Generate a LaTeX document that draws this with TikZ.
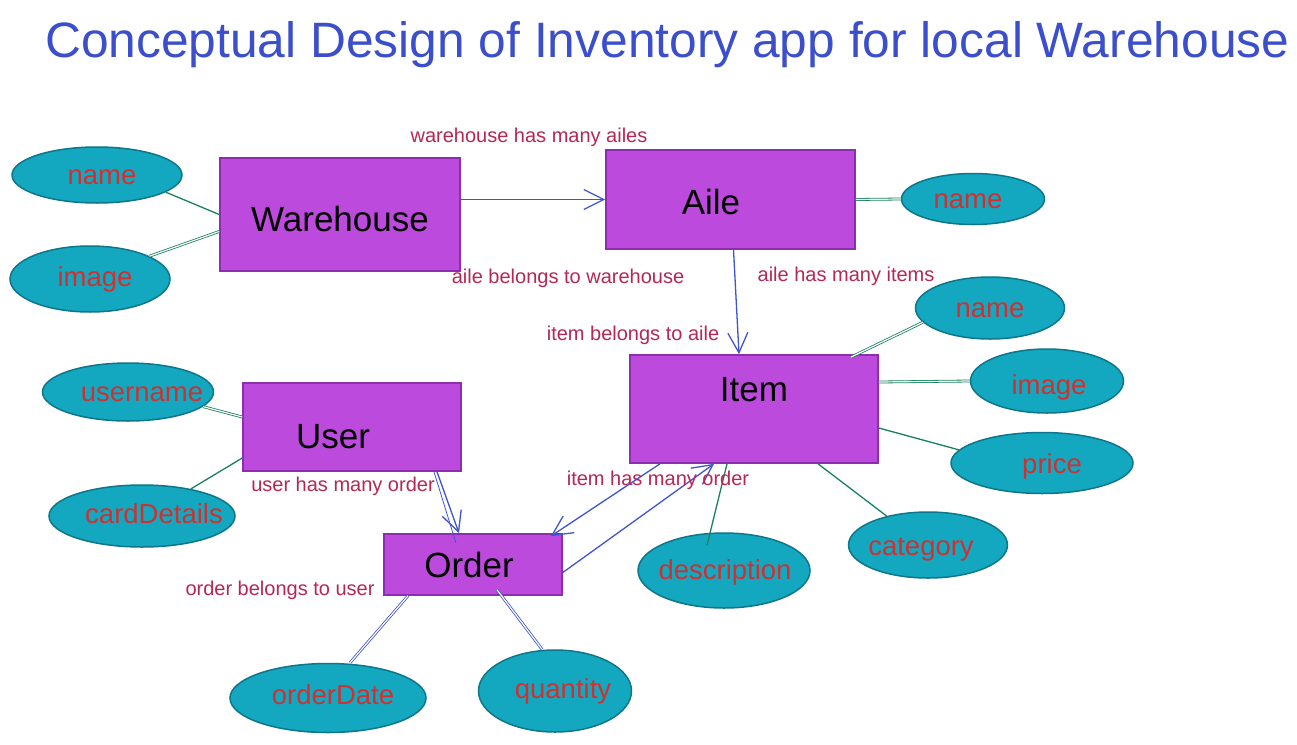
\documentclass[tikz,border=0pt]{standalone}
\usepackage{fontspec}
\setmainfont{Liberation Sans}
\usetikzlibrary{shapes.geometric,arrows.meta}
\definecolor{titleblue}{RGB}{59,78,204}
\definecolor{relred}{RGB}{181,40,84}
\definecolor{attrred}{RGB}{208,48,48}
\definecolor{ellfill}{RGB}{20,168,192}
\definecolor{elldraw}{RGB}{14,118,138}
\definecolor{entfill}{RGB}{188,74,220}
\definecolor{entdraw}{RGB}{140,46,174}
\definecolor{arrblue}{RGB}{64,84,208}
\definecolor{lngreen}{RGB}{26,130,90}
\tikzset{
  entity/.style={rectangle, draw=entdraw, fill=entfill, line width=1.6pt, inner sep=0pt},
  etext/.style={text=black, font=\fontsize{35}{40}\selectfont, inner sep=0pt},
  attr/.style={ellipse, draw=elldraw, fill=ellfill, line width=1.5pt, inner sep=0pt},
  atext/.style={text=attrred, font=\fontsize{27.5}{32}\selectfont, inner sep=0pt, anchor=base},
  rel/.style={text=relred, font=\fontsize{20}{24}\selectfont, inner sep=0pt, anchor=base},
  conn/.style={draw=arrblue, line width=1.3pt, -{Straight Barb[length=20pt,width=20pt,line width=1.3pt]}},
  gline/.style={draw=lngreen, line width=1.3pt},
  gdbl/.style={draw=lngreen, line width=0.8pt, double=white, double distance=1.2pt},
  bdbl/.style={draw=arrblue, line width=0.8pt, double=white, double distance=1.2pt},
}
\begin{document}
\begin{tikzpicture}[x=1pt,y=-1pt]
\useasboundingbox[fill=white] (0,0) rectangle (1297,744);
% title
\node[anchor=base west, inner sep=0pt, text=titleblue, font=\fontsize{49.7}{56}\selectfont] (title) at (45,57) {Conceptual Design of Inventory app for local Warehouse};
% entities
\node[entity, minimum width=240pt, minimum height=113pt] (wh) at (340,214.5) {};
\node[etext] (whT) at (340,219) {Warehouse};
\node[entity, minimum width=249pt, minimum height=99pt] (aile) at (730.5,199.5) {};
\node[etext] (aileT) at (711,202) {Aile};
\node[entity, minimum width=248pt, minimum height=108pt] (item) at (754,409) {};
\node[etext] (itemT) at (754,390) {Item};
\node[entity, minimum width=218pt, minimum height=88pt] (user) at (352,427) {};
\node[etext] (userT) at (333,437) {User};
\node[entity, minimum width=178pt, minimum height=61pt] (order) at (473,564.5) {};
\node[etext] (orderT) at (469,565) {Order};
% attributes
\node[attr, minimum width=170pt, minimum height=56pt] (wname) at (97,175) {};
\node[atext] (wnameT) at (102,184) {name};
\node[attr, minimum width=160pt, minimum height=66pt] (wimg) at (90,279) {};
\node[atext] (wimgT) at (95,286) {image};
\node[attr, minimum width=143pt, minimum height=51pt] (aname) at (973,199) {};
\node[atext] (anameT) at (968,208) {name};
\node[attr, minimum width=149pt, minimum height=62pt] (iname) at (990,308) {};
\node[atext] (inameT) at (990,317) {name};
\node[attr, minimum width=153pt, minimum height=64pt] (iimg) at (1047,381) {};
\node[atext] (iimgT) at (1049,394) {image};
\node[attr, minimum width=182pt, minimum height=61pt] (iprice) at (1042,463) {};
\node[atext] (ipriceT) at (1052,473) {price};
\node[attr, minimum width=159pt, minimum height=66pt] (icat) at (928,545) {};
\node[atext] (icatT) at (921,555) {category};
\node[attr, minimum width=172pt, minimum height=75pt] (desc) at (724,570.5) {};
\node[atext] (descT) at (725,579) {description};
\node[attr, minimum width=171pt, minimum height=58pt] (uname) at (128,392) {};
\node[atext] (unameT) at (142,401) {username};
\node[attr, minimum width=186pt, minimum height=62pt] (card) at (142,516) {};
\node[atext] (cardT) at (154,523) {cardDetails};
\node[attr, minimum width=196pt, minimum height=69pt] (odate) at (328,698) {};
\node[atext] (odateT) at (333,704) {orderDate};
\node[attr, minimum width=153pt, minimum height=82pt] (qty) at (555,691) {};
\node[atext] (qtyT) at (563,698) {quantity};
% attribute lines
\draw[gline] (wname.-14) -- (wh.west);
\draw[gdbl] (wimg.21) -- ([yshift=-17pt]wh.west);
\draw[gdbl] (aile.east) -- (aname.west);
\draw[gdbl] (iname.192) -- ([xshift=-28pt,yshift=-3pt]item.north east);
\draw[gdbl] ([yshift=27pt]item.east) -- (iimg.west);
\draw[gline] ([yshift=-19pt]item.east) -- (iprice.171);
\draw[gline] ([xshift=64pt]item.south) -- (icat.145);
\draw[gline] ([xshift=-27pt]item.south) -- ([xshift=-17pt,yshift=-13pt]desc.north);
\draw[gdbl] (uname.-11) -- ([yshift=10pt]user.west);
\draw[gline] (card.29) -- ([yshift=-31pt]user.west);
\draw[bdbl] ([xshift=-65pt]order.south) -- ([xshift=22pt]odate.north);
\draw[bdbl] ([xshift=24pt,yshift=6pt]order.south) -- ([xshift=-13pt]qty.north);
% relationship arrows
\draw[conn] (wh.east |- aile.west) -- (aile.west);
\draw[conn] ([xshift=3pt]aile.south) -- ([xshift=-15pt]item.north);
\draw[conn] ([xshift=85pt]user.south) -- ([xshift=-14pt]order.north);
\draw[draw=arrblue, line width=0.8pt] ([xshift=82pt]user.south) -- ([xshift=-17pt,yshift=-10pt]order.north);
\draw[conn] ([xshift=-94pt]item.south) -- ([xshift=-12pt,yshift=-3pt]order.north east);
\draw[conn] ([yshift=-8pt]order.east) -- ([xshift=-40pt]item.south);
% relationship labels
\node[rel] (l1) at (529,142) {warehouse has many ailes};
\node[rel] (l2) at (568,283) {aile belongs to warehouse};
\node[rel] (l3) at (846,281) {aile has many items};
\node[rel] (l4) at (633,340) {item belongs to aile};
\node[rel] (l5) at (343,491) {user has many order};
\node[rel] (l6) at (658,485) {item has many order};
\node[rel] (l7) at (280,595) {order belongs to user};
\end{tikzpicture}
\end{document}
